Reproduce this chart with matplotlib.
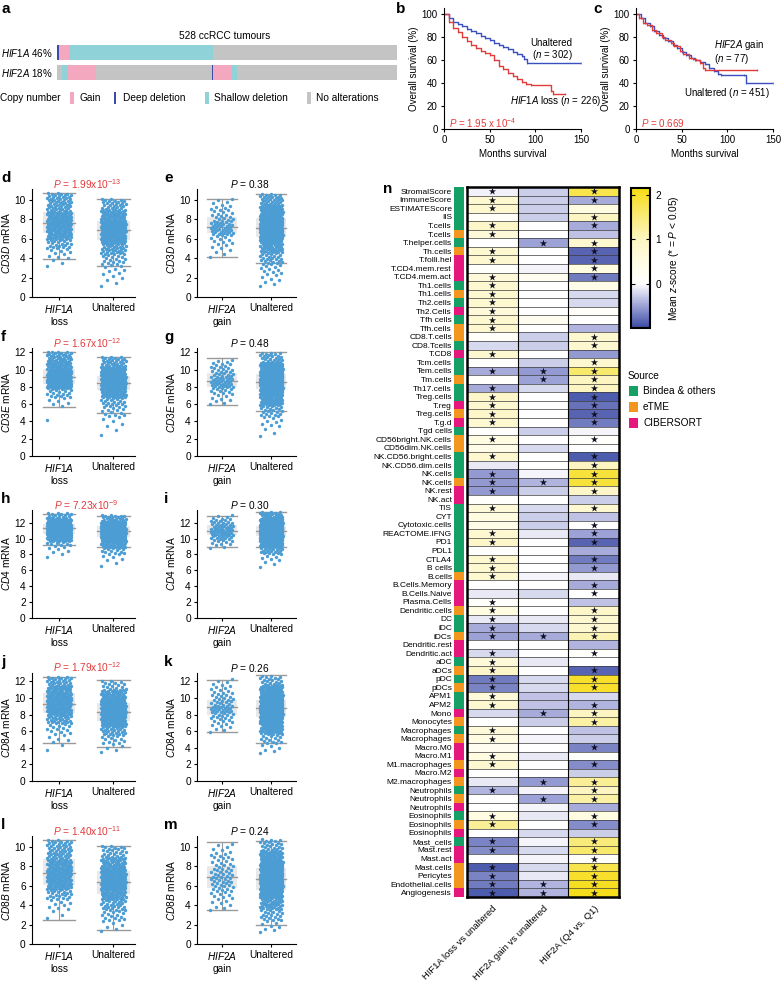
import numpy as np
import matplotlib.pyplot as plt
import matplotlib.cm as cm
from matplotlib.colors import LinearSegmentedColormap, Normalize, ListedColormap
from matplotlib.patches import Rectangle

plt.rcParams['font.family'] = ['Liberation Sans', 'DejaVu Sans']
plt.rcParams['mathtext.fontset'] = 'custom'
plt.rcParams['mathtext.rm'] = 'Liberation Sans'
plt.rcParams['mathtext.it'] = 'Liberation Sans:italic'
plt.rcParams['mathtext.bf'] = 'Liberation Sans:bold'
plt.rcParams['font.size'] = 7
plt.rcParams['axes.linewidth'] = 0.8

W, H = 781, 982

# ---------------- data ----------------
# panel a: copy number segments (samples, in plotted order)
cn_labels = ['Gain', 'Deep deletion', 'Shallow deletion', 'No alterations']
cn_colors = {'Gain': '#f4a8bf', 'Deep deletion': '#3b4ba8',
             'Shallow deletion': '#8fd3d8', 'No alterations': '#c4c4c4'}
hif1a_segs = ['Deep deletion', 'Gain', 'Shallow deletion', 'No alterations']
hif1a_counts = [3, 16, 223, 286]
hif2a_segs = ['No alterations', 'Shallow deletion', 'Gain', 'No alterations',
              'Deep deletion', 'Gain', 'Shallow deletion', 'No alterations']
hif2a_counts = [8, 9, 44, 179, 3, 28, 9, 248]

# panel b: Kaplan-Meier (months, % survival)
b_unalt_t = [0, 5, 10, 15, 20, 25, 30, 35, 40, 45, 50, 55, 60, 65, 70, 75, 80, 85, 88, 91, 150]
b_unalt_s = [100, 96, 93, 91, 89, 87, 85, 83, 81, 79, 77, 75, 73, 71, 69, 67, 65, 63, 61, 57, 57]
b_loss_t = [0, 5, 10, 15, 20, 25, 30, 35, 40, 45, 50, 55, 60, 65, 70, 75, 80, 85, 90, 95, 117, 119, 133]
b_loss_s = [100, 93, 88, 84, 80, 76, 73, 70, 68, 66, 64, 60, 55, 52, 49, 46, 43, 41, 39, 38, 33, 30, 30]
# panel c
c_unalt_t = [0, 5, 10, 15, 20, 25, 30, 35, 40, 45, 50, 55, 60, 65, 70, 75, 80, 85, 90, 93, 118, 120, 150]
c_unalt_s = [100, 96, 92, 89, 85, 82, 79, 76, 73, 70, 67, 64, 62, 60, 58, 56, 53, 50, 48, 47, 47, 40, 40]
c_gain_t = [0, 3, 8, 12, 18, 22, 28, 32, 38, 42, 48, 52, 58, 62, 66, 70, 73, 75, 133]
c_gain_s = [100, 96, 92, 90, 86, 83, 80, 77, 75, 72, 68, 65, 62, 61, 60, 57, 53, 51, 51]

# panels d-m: mRNA distributions (range of points, counts in 8 equal bins, box stats)
genes = ['CD3D', 'CD3E', 'CD4', 'CD8A', 'CD8B']
loss_p = ['1.99x10$^{-13}$', '1.67x10$^{-12}$', '7.23x10$^{-9}$', '1.79x10$^{-12}$', '1.40x10$^{-11}$']
gain_p = ['0.38', '0.48', '0.30', '0.26', '0.24']
loss_range = [(3.0, 10.7), (3.6, 12.1), (7.5, 13.3), (3.5, 12.6), (2.5, 10.7)]
loss_counts = [[3, 8, 20, 40, 55, 45, 28, 27], [1, 0, 6, 18, 70, 60, 40, 31],
               [2, 4, 10, 35, 65, 60, 35, 15], [2, 6, 12, 30, 55, 55, 40, 26],
               [3, 8, 20, 45, 55, 42, 28, 25]]
loss_box = [(3.9, 6.55, 7.6, 8.7, 10.7), (5.7, 8.3, 9.15, 10.05, 12.0),
            (9.2, 10.6, 11.3, 11.9, 13.1), (4.6, 8.2, 9.3, 10.6, 12.5),
            (2.5, 6.1, 7.25, 8.7, 10.7)]
unalt1_range = [(1.0, 10.1), (2.1, 11.5), (6.3, 13.0), (3.3, 12.1), (1.2, 10.1)]
unalt1_counts = [[4, 8, 18, 35, 70, 90, 50, 27], [2, 4, 12, 22, 60, 100, 72, 30],
                 [2, 4, 12, 30, 70, 100, 62, 22], [4, 12, 25, 58, 85, 65, 38, 15],
                 [5, 15, 25, 45, 80, 70, 40, 22]]
unalt1_box = [(3.2, 5.9, 6.85, 7.8, 10.1), (4.95, 7.6, 8.5, 9.3, 11.5),
              (9.0, 10.2, 10.9, 11.6, 12.9), (4.1, 7.2, 8.3, 9.4, 12.1),
              (1.4, 5.1, 6.4, 7.5, 10.05)]
gain_range = [(4.0, 10.2), (5.9, 11.2), (8.7, 13.0), (5.8, 12.3), (3.4, 10.4)]
gain_counts = [[3, 5, 8, 19, 18, 11, 8, 5], [4, 5, 9, 17, 15, 12, 9, 6],
               [3, 6, 10, 16, 16, 12, 9, 5], [4, 8, 12, 18, 13, 10, 7, 5],
               [5, 7, 12, 15, 14, 10, 9, 5]]
gain_box = [(4.1, 6.6, 7.2, 8.2, 10.1), (5.95, 8.0, 8.7, 9.6, 11.3),
            (9.0, 10.4, 11.0, 11.7, 12.9), (5.9, 8.0, 8.9, 9.8, 12.2),
            (3.45, 5.8, 6.85, 8.0, 10.45)]
unalt2_range = [(1.0, 10.6), (2.1, 12.0), (6.3, 13.4), (3.3, 12.7), (1.2, 10.8)]
unalt2_counts = [[6, 12, 25, 45, 120, 140, 70, 33], [3, 8, 20, 45, 110, 155, 85, 25],
                 [3, 6, 20, 50, 130, 140, 77, 25], [6, 15, 40, 80, 140, 100, 50, 20],
                 [8, 20, 40, 80, 130, 100, 50, 23]]
unalt2_box = [(3.5, 6.2, 7.1, 8.1, 10.6), (5.2, 7.8, 8.6, 9.5, 12.0),
              (9.0, 10.3, 11.0, 11.6, 13.3), (4.6, 7.7, 8.8, 9.7, 12.7),
              (2.0, 5.6, 6.7, 7.8, 10.6)]

# panel n: heatmap
cell_types = ['StromalScore', 'ImmuneScore', 'ESTIMATEScore', 'IIS', 'T.cells', 'T.cells',
              'T.helper.cells', 'Th.cells', 'T.folli.hel', 'T.CD4.mem.rest', 'T.CD4.mem.act',
              'Th1.cells', 'Th1.cells', 'Th2.cells', 'Th2.Cells', 'Tfh cells', 'Tfh.cells',
              'CD8.T.cells', 'CD8.Tcells', 'T.CD8', 'Tcm.cells', 'Tem.cells', 'Tm.cells',
              'Th17.cells', 'Treg.cells', 'T.reg', 'Treg.cells', 'T.g.d', 'Tgd cells',
              'CD56bright.NK.cells', 'CD56dim.NK.cells', 'NK.CD56.bright.cells',
              'NK.CD56.dim.cells', 'NK.cells', 'NK.cells', 'NK.rest', 'NK.act', 'TIS', 'CYT',
              'Cytotoxic.cells', 'REACTOME.IFNG', 'PD1', 'PDL1', 'CTLA4', 'B cells', 'B.cells',
              'B.Cells.Memory', 'B.Cells.Naive', 'Plasma.Cells', 'Dendritic.cells', 'DC', 'iDC',
              'iDCs', 'Dendritic.rest', 'Dendritic.act', 'aDC', 'aDCs', 'pDC', 'pDCs', 'APM1',
              'APM2', 'Mono', 'Monocytes', 'Macrophages', 'Macrophages', 'Macro.M0', 'Macro.M1',
              'M1.macrophages', 'Macro.M2', 'M2.macrophages', 'Neutrophils', 'Neutrophils',
              'Neutrophils', 'Eosinophils', 'Eosinophils', 'Eosinophils', 'Mast_cells',
              'Mast.rest', 'Mast.act', 'Mast.cells', 'Pericytes', 'Endothelial.cells',
              'Angiogenesis']
# 0 = Bindea & others, 1 = eTME, 2 = CIBERSORT
source = [0, 0, 0, 0, 0, 1, 0, 1, 2, 2, 2, 0, 1, 0, 2, 0, 1, 1, 0, 2, 0, 0, 1, 0, 0, 2, 1, 2, 0,
          1, 1, 0, 0, 0, 1, 2, 2, 0, 0, 0, 0, 0, 0, 0, 0, 1, 2, 2, 2, 1, 0, 0, 1, 2, 2, 0, 1, 0,
          1, 0, 0, 2, 1, 0, 1, 2, 2, 1, 2, 1, 0, 1, 2, 0, 1, 2, 0, 2, 2, 1, 1, 1, 2]
source_names = ['Bindea & others', 'eTME', 'CIBERSORT']
source_colors = ['#17a065', '#f3961f', '#e5177f']
comparisons = ['HIF1A loss vs unaltered', 'HIF2A gain vs unaltered', 'HIF2A (Q4 vs. Q1)']
z_loss = [-0.07, 0.8, 0.8, 0.1, 0.9, 0.65, 0.0, 0.8, 0.8, 0.05, 0.65, 0.8, 0.8, 0.8, 0.65, 0.8,
          0.8, 0.1, -0.2, 0.8, 0.02, -0.45, 0.05, -0.45, 0.9, 0.8, 0.9, 0.8, 0.02, 0.5, 0.4, 0.8,
          -0.12, -0.55, -0.55, -0.55, 0.05, 0.65, 0.5, 0.4, 0.8, 0.9, 0.03, 0.8, 0.8, 0.8, 0.0,
          -0.12, 0.05, 0.5, -0.12, -0.45, -0.5, 0.0, -0.2, 0.65, 0.9, -0.72, -0.67, 0.65, 0.8,
          -0.2, 0.0, 0.65, 0.5, 0.25, 0.5, 0.8, 0.0, -0.12, -0.4, 0.0, 0.0, 0.5, 1.3, 0.0, -0.67,
          -0.62, 0.0, -0.9, -0.67, -0.72, -0.9]
z_gain = [-0.27, -0.27, -0.27, -0.27, 0.0, 0.0, -0.5, 0.0, 0.0, -0.05, 0.25, 0.0, 0.0, 0.0, 0.0,
          0.25, 0.0, -0.27, -0.27, 0.0, -0.27, -0.55, -0.5, -0.2, 0.0, 0.0, 0.0, 0.0, -0.27, 0.0,
          -0.2, 0.0, 0.0, -0.05, -0.4, -0.27, 0.0, -0.2, -0.27, -0.27, -0.12, 0.0, 0.0, 0.0, 0.0,
          -0.05, 0.0, -0.2, 0.0, 0.0, -0.12, -0.2, -0.45, 0.0, 0.0, -0.12, 0.0, -0.2, -0.2, -0.33,
          -0.33, -0.45, -0.27, 0.0, -0.05, 0.0, -0.12, 0.0, 0.0, -0.55, -0.05, -0.5, -0.05, -0.12,
          0.0, -0.2, -0.05, -0.2, -0.05, -0.2, -0.12, -0.4, -0.4]
z_q4q1 = [1.8, -0.45, 0.5, 1.0, -0.45, -0.33, 0.8, -0.85, -0.85, 0.5, -0.72, 0.4, -0.2, -0.2,
          0.1, 0.0, -0.4, 0.8, 0.8, -0.55, 0.8, 1.6, 1.0, 1.0, -0.9, -0.77, -0.85, -0.72, -0.05,
          0.05, 0.0, -0.9, 1.0, 1.9, 1.9, 0.9, -0.27, 0.8, -0.33, 0.02, -0.5, -0.85, -0.45, -0.72,
          -0.55, -0.12, -0.45, 0.0, -0.33, 0.9, 0.8, 0.8, 1.1, -0.4, 0.05, 0.0, -0.85, 2.0, 2.0,
          -0.2, -0.4, 1.0, 1.2, -0.33, -0.27, -0.67, 0.05, -0.62, -0.27, 1.3, 1.0, 1.2, -0.45,
          0.5, -0.62, -0.27, 1.5, 1.6, 0.1, 1.8, 2.0, 2.05, 2.1]
sig_loss = [0, 1, 2, 4, 5, 7, 8, 10, 11, 12, 13, 14, 15, 16, 19, 21, 23, 24, 25, 26, 27, 29, 31,
            33, 34, 35, 37, 40, 41, 43, 44, 45, 48, 49, 50, 51, 52, 54, 55, 56, 57, 58, 59, 60,
            63, 64, 66, 67, 70, 73, 74, 76, 77, 79, 80, 81, 82]
sig_gain = [6, 21, 22, 34, 52, 61, 69, 71, 81, 82]
sig_q4q1 = [0, 1, 3, 4, 6, 7, 8, 9, 10, 17, 18, 20, 21, 22, 23, 24, 25, 26, 27, 29, 31, 32, 33,
            34, 35, 37, 39, 40, 41, 43, 44, 46, 47, 49, 50, 51, 52, 54, 56, 57, 58, 60, 61, 62,
            65, 67, 69, 70, 71, 73, 74, 76, 77, 78, 79, 80, 81, 82]

# ---------------- figure ----------------
fig = plt.figure(figsize=(W / 100, H / 100), dpi=100)


def px_axes(x0, y0, x1, y1):
    return fig.add_axes([x0 / W, 1 - y1 / H, (x1 - x0) / W, (y1 - y0) / H])


bg = fig.add_axes([0, 0, 1, 1])
bg.set_xlim(0, W)
bg.set_ylim(H, 0)
bg.axis('off')


def letter(x, y, s):
    bg.text(x, y, s, fontsize=11, fontweight='bold', ha='left', va='center')


# ---- panel a ----
letter(1, 9, 'a')
ax_a = px_axes(57, 40, 397, 85)
for row, (segs, cnts) in enumerate([(hif1a_segs, hif1a_counts), (hif2a_segs, hif2a_counts)]):
    left = 0
    for sg, c in zip(segs, cnts):
        ax_a.barh(row, c, left=left, height=0.72, color=cn_colors[sg], linewidth=0)
        left += c
ax_a.set_xlim(0, sum(hif1a_counts))
ax_a.set_ylim(1.6, -0.6)
ax_a.axis('off')
bg.text(225, 36, '528 ccRCC tumours', fontsize=7.3, ha='center', va='center')
bg.text(53, 53, '$HIF1A$ 46%', fontsize=7, ha='right', va='center')
bg.text(53, 73, '$HIF2A$ 18%', fontsize=7, ha='right', va='center')
bg.text(0, 98, 'Copy number', fontsize=7.3, ha='left', va='center')
leg_x = [70, 114, 205, 307]
for lx, lab in zip(leg_x, cn_labels):
    wd = 2 if lab == 'Deep deletion' else 4
    bg.add_patch(Rectangle((lx, 92), wd, 12, color=cn_colors[lab], lw=0))
    bg.text(lx + 9, 98, lab, fontsize=7.3, ha='left', va='center')


# ---- panels b, c ----
def km_axes(ax):
    ax.set_xlim(0, 150)
    ax.set_ylim(0, 105)
    ax.set_xticks([0, 50, 100, 150])
    ax.set_yticks([0, 20, 40, 60, 80, 100])
    ax.spines['top'].set_visible(False)
    ax.spines['right'].set_visible(False)
    ax.tick_params(length=2.5, width=0.8, labelsize=7, pad=2)
    ax.set_xlabel('Months survival', fontsize=7, labelpad=3)
    ax.set_ylabel('Overall survival (%)', fontsize=7, labelpad=2)
    ax.patch.set_alpha(0)


red = '#e23b3b'
blue = '#3a4fbf'
letter(396, 9, 'b')
ax_b = px_axes(444, 8, 581, 129)
ax_b.step(b_unalt_t, b_unalt_s, where='post', color=blue, lw=1.0, marker='|', ms=1.5, mew=0.5)
ax_b.step(b_loss_t, b_loss_s, where='post', color=red, lw=1.0, marker='|', ms=1.5, mew=0.5)
km_axes(ax_b)
ax_b.text(94, 75, 'Unaltered', fontsize=7, ha='left', va='center')
ax_b.text(96, 64, '($n$ = 302)', fontsize=7, ha='left', va='center')
ax_b.text(72, 24, '$HIF1A$ loss ($n$ = 226)', fontsize=7, ha='left', va='center')
ax_b.text(5, 5, '$P$ = 1.95 x 10$^{-4}$', fontsize=7, color=red, ha='left', va='center')

letter(593, 9, 'c')
ax_c = px_axes(636, 8, 773, 129)
ax_c.step(c_unalt_t, c_unalt_s, where='post', color=blue, lw=1.0, marker='|', ms=1.5, mew=0.5)
ax_c.step(c_gain_t, c_gain_s, where='post', color=red, lw=1.0, marker='|', ms=1.5, mew=0.5)
km_axes(ax_c)
ax_c.text(85, 73, '$HIF2A$ gain', fontsize=7, ha='left', va='center')
ax_c.text(85, 61, '($n$ = 77)', fontsize=7, ha='left', va='center')
ax_c.text(53, 31, 'Unaltered ($n$ = 451)', fontsize=7, ha='left', va='center')
ax_c.text(5, 5, '$P$ = 0.669', fontsize=7, color=red, ha='left', va='center')


# ---- panels d-m ----
def draw_group(ax, xpos, rng, counts, stats):
    lo, hi = rng
    w = (hi - lo) / len(counts)
    ys = []
    for b, c in enumerate(counts):
        for j in range(c):
            ys.append(lo + b * w + (j + 0.5) / c * w)
    ys = np.array(ys)
    k = np.arange(len(ys))
    xs = xpos + ((k * 0.618034) % 1.0 - 0.5) * 0.46
    wlo, q1, med, q3, whi = stats
    ax.add_patch(Rectangle((xpos - 0.3, q1), 0.6, q3 - q1, facecolor='#e9e9e9',
                           edgecolor='none', zorder=1))
    ax.plot([xpos, xpos], [wlo, whi], color='#9a9a9a', lw=0.8, zorder=1.5)
    for v in (wlo, med, whi):
        ax.plot([xpos - 0.3, xpos + 0.3], [v, v], color='#9a9a9a', lw=1.0, zorder=1.5)
    ax.scatter(xs, ys, s=6, color='#4d9dd5', linewidths=0, zorder=2)


zero_y = [297, 456, 618, 781, 944]
ytops = [11.1, 12.5, 13.6, 13.0, 11.1]
ymaxtick = [10, 12, 12, 12, 10]
left_letters = ['d', 'f', 'h', 'j', 'l']
right_letters = ['e', 'g', 'i', 'k', 'm']
for r in range(5):
    z = zero_y[r]
    for side in range(2):
        if side == 0:
            ax = px_axes(32, z - 108, 135, z)
            ax.set_xlim(-0.5, 1.4)
            draw_group(ax, 0, loss_range[r], loss_counts[r], loss_box[r])
            draw_group(ax, 1, unalt1_range[r], unalt1_counts[r], unalt1_box[r])
            ticklabs = ['$HIF1A$\nloss', 'Unaltered']
            ptxt, pcol = '$P$ = ' + loss_p[r], red
            letter(1, z - 119, left_letters[r])
        else:
            ax = px_axes(197, z - 108, 296, z)
            ax.set_xlim(-0.5, 1.5)
            draw_group(ax, 0, gain_range[r], gain_counts[r], gain_box[r])
            draw_group(ax, 1, unalt2_range[r], unalt2_counts[r], unalt2_box[r])
            ticklabs = ['$HIF2A$\ngain', 'Unaltered']
            ptxt, pcol = '$P$ = ' + gain_p[r], 'black'
            letter(164, z - 119, right_letters[r])
        ax.set_xticks([0, 1])
        ax.set_xticklabels(ticklabs, fontsize=7.3, va='top')
        ax.set_ylim(0, ytops[r])
        ax.set_yticks(np.arange(0, ymaxtick[r] + 1, 2))
        ax.spines['top'].set_visible(False)
        ax.spines['right'].set_visible(False)
        ax.tick_params(length=2.5, width=0.8, labelsize=7.3, pad=2)
        ax.set_ylabel('$' + genes[r] + '$ mRNA', fontsize=7.3, labelpad=2)
        ax.text(0.53, 1.05, ptxt, transform=ax.transAxes, color=pcol, fontsize=7.3,
                ha='center', va='center')

# ---- panel n ----
letter(383, 189, 'n')
nrow = len(cell_types)
zmat = np.column_stack([z_loss, z_gain, z_q4q1])
norm = Normalize(vmin=-1.0, vmax=2.16)
nodes = [(-1.0, '#3a4aa3'), (-0.5, '#9ea3d6'), (0.0, '#ffffff'), (0.5, '#fffce2'),
         (1.0, '#fcf5c2'), (1.5, '#f9eb7a'), (2.16, '#f6dc14')]
cmap = LinearSegmentedColormap.from_list('zs', [((v + 1.0) / 3.16, c) for v, c in nodes])

ax_h = px_axes(467, 187, 619, 897)
ax_h.pcolormesh(np.arange(4), np.arange(nrow + 1), zmat, cmap=cmap, norm=norm)
ax_h.hlines(np.arange(1, nrow), 0, 3, color='#3a3a3a', lw=0.5)
ax_h.vlines([1, 2], 0, nrow, color='black', lw=0.8)
for col, sig in enumerate([sig_loss, sig_gain, sig_q4q1]):
    ax_h.scatter(np.full(len(sig), col + 0.5), np.array(sig) + 0.5, marker='*', s=30,
                 color='#111122', linewidths=0, zorder=3)
ax_h.set_xlim(0, 3)
ax_h.set_ylim(nrow, 0)
ax_h.set_yticks([])
ax_h.set_xticks([0.5, 1.5, 2.5])
ax_h.set_xticklabels(comparisons, rotation=45, ha='right', rotation_mode='anchor', fontsize=6.8)
ax_h.tick_params(axis='x', length=0, pad=5)
for sp in ax_h.spines.values():
    sp.set_linewidth(1.8)

ax_s = px_axes(454, 187, 464, 897)
ax_s.pcolormesh(np.arange(2), np.arange(nrow + 1), np.array(source)[:, None],
                cmap=ListedColormap(source_colors), vmin=-0.5, vmax=2.5)
ax_s.set_ylim(nrow, 0)
ax_s.set_xticks([])
ax_s.set_yticks(np.arange(nrow) + 0.5)
ax_s.set_yticklabels(cell_types, fontsize=6.0)
ax_s.tick_params(axis='y', length=0, pad=1.5)
for sp in ax_s.spines.values():
    sp.set_visible(False)

ax_cb = px_axes(631, 188, 650, 328)
cb = fig.colorbar(cm.ScalarMappable(norm=norm, cmap=cmap), cax=ax_cb)
cb.set_ticks([0, 1, 2])
cb.ax.tick_params(direction='in', left=True, right=True, length=3, width=0.8, labelsize=7.3, pad=4)
cb.outline.set_linewidth(1.5)
bg.text(674, 258, 'Mean $z$-score (* = $P$ < 0.05)', fontsize=7.3, rotation=90,
        ha='center', va='center')

bg.text(628, 376, 'Source', fontsize=7.3, ha='left', va='center')
for i, (nm, colr) in enumerate(zip(source_names, source_colors)):
    yy = 391 + 16 * i
    bg.add_patch(Rectangle((629, yy - 5), 9, 10, color=colr, lw=0))
    bg.text(643, yy, nm, fontsize=7.3, ha='left', va='center')

fig.savefig('out.png', dpi=100)
